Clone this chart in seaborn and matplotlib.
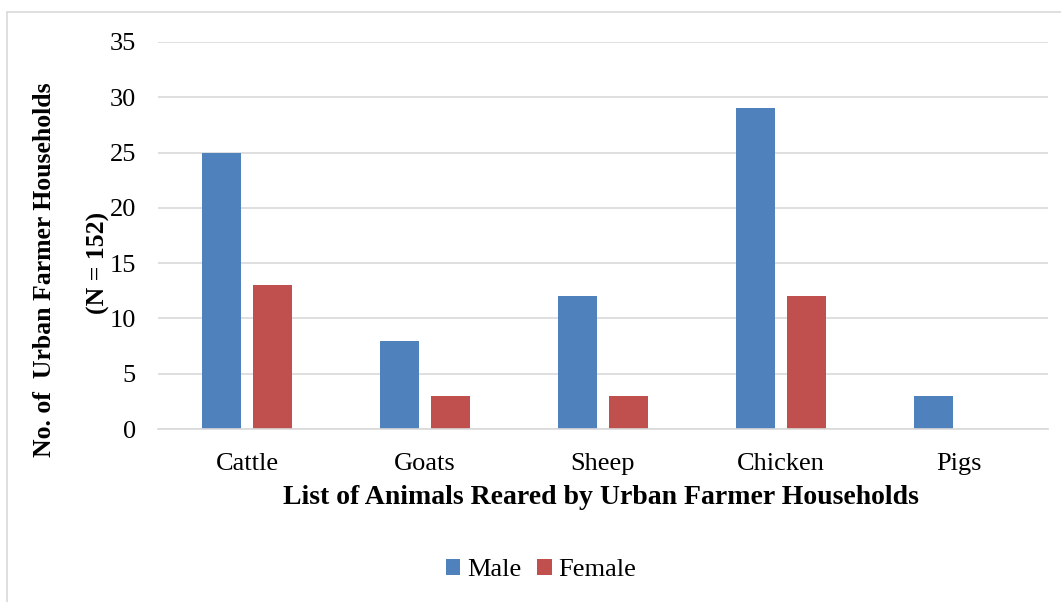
import pandas as pd
import matplotlib
matplotlib.use("Agg")
import matplotlib.pyplot as plt
import seaborn as sns
from matplotlib.patches import Rectangle

# data
animals = ["Cattle", "Goats", "Sheep", "Chicken", "Pigs"]
male = [25, 8, 12, 29, 3]
female = [13, 3, 3, 12, 0]
groups = ["Male", "Female"]
colors = ["#4F81BD", "#C0504D"]

df = pd.DataFrame({
    "animal": animals * 2,
    "sex": ["Male"] * len(animals) + ["Female"] * len(animals),
    "count": male + female,
})

sns.set_theme(style="white")
plt.rcParams["font.family"] = ["Liberation Serif", "DejaVu Serif"]
plt.rcParams["text.color"] = "black"

W, H = 1061, 602
fig = plt.figure(figsize=(W / 100, H / 100), dpi=100)
ax = fig.add_axes([158 / W, 1 - 429 / H, 890 / W, 387 / H])

sns.barplot(data=df, x="animal", y="count", hue="sex", hue_order=groups,
            palette=colors, width=0.567, gap=0.218, saturation=1,
            edgecolor="none", ax=ax, legend=True)

ax.set_ylim(0, 35)
ax.set_yticks(range(0, 36, 5))
ax.set_xlim(-0.5, len(animals) - 0.5)
ax.yaxis.grid(True, color="#D9D9D9", linewidth=1.2)
ax.set_axisbelow(True)
for s in ["top", "right", "left"]:
    ax.spines[s].set_visible(False)
ax.spines["bottom"].set_color("#D9D9D9")
ax.spines["bottom"].set_linewidth(1.2)
ax.tick_params(axis="both", length=0, labelsize=19, colors="black")
ax.tick_params(axis="y", pad=16)
ax.tick_params(axis="x", pad=17)
ax.set_xlabel("")
ax.set_ylabel("")

# axis titles placed like the original
fig.text(601 / W, 1 - 498 / H, "List of Animals Reared by Urban Farmer Households",
         fontsize=20, fontweight="bold", ha="center", va="center", color="black")
fig.text(45 / W, 1 - 270 / H, "No. of  Urban Farmer Households",
         fontsize=18.5, fontweight="bold", rotation=90, ha="center", va="center",
         color="black")
fig.text(98 / W, 1 - 263 / H, "(N = 152)",
         fontsize=18.5, fontweight="bold", rotation=90, ha="center", va="center",
         color="black")

leg = ax.legend(loc="center", bbox_to_anchor=(541 / W, 1 - 570 / H),
                bbox_transform=fig.transFigure, ncol=2, frameon=False,
                prop={"family": ["Liberation Serif"], "size": 19},
                handlelength=0.55, handleheight=0.55,
                handletextpad=0.25, columnspacing=0.6)
for t in leg.get_texts():
    t.set_color("black")

# light frame around the chart area
fig.patches.append(Rectangle((7 / W, -0.1), 1.2, 1.1 - 12 / H,
                             transform=fig.transFigure, fill=False,
                             edgecolor="#D9D9D9", linewidth=1.2))

fig.savefig("out.png", dpi=100)
